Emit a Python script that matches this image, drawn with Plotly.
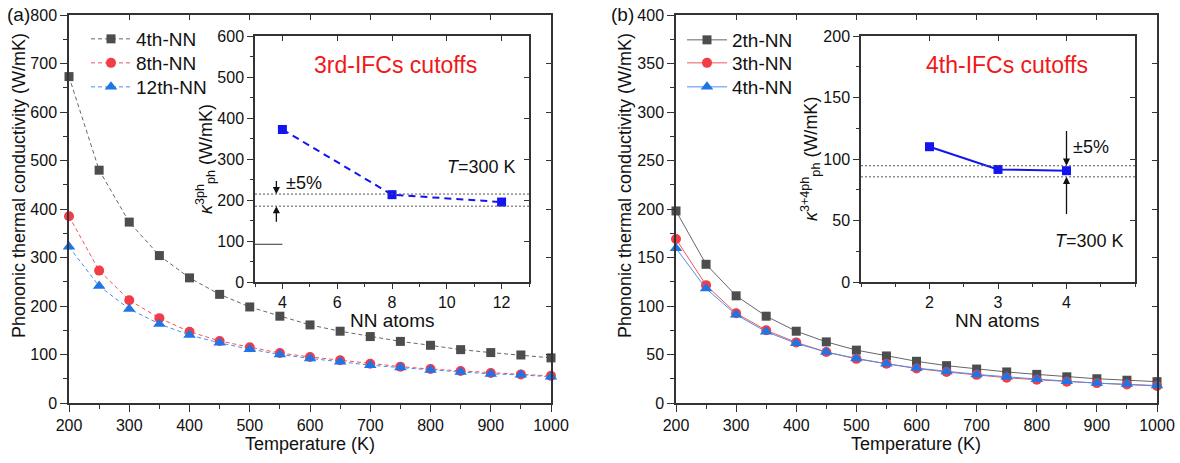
import plotly.graph_objects as go

# ---------------- data ----------------
temperature = [200, 250, 300, 350, 400, 450, 500, 550, 600, 650, 700, 750, 800, 850, 900, 950, 1000]

# panel (a): 3rd-order IFC cutoffs
k_4thNN = [673, 480, 373, 304, 258, 224, 198, 179, 161, 148, 137, 127, 119, 110, 104, 99, 93]
k_8thNN = [385, 273, 212, 175, 147, 128, 115, 103, 95, 88, 81, 75, 70, 66, 62, 59, 56]
k_12thNN = [322, 241, 194, 163, 140, 124, 111, 100, 92, 85, 78, 73, 68, 64, 60, 58, 54]

# panel (b): 4th-order IFC cutoffs
k_2thNN = [198, 143, 110.5, 89.5, 74, 63, 54.5, 48.5, 43, 38.5, 35, 32, 29.5, 27, 25, 23.5, 22]
k_3thNN = [169, 121.5, 92.5, 75, 62.5, 52.5, 45.5, 40.5, 35.5, 32, 29, 26, 24, 22, 20.5, 19, 17.5]
k_4thNN_b = [159.5, 118, 91, 73.5, 61.5, 52.5, 46, 40.5, 36, 32.5, 29.5, 27, 24.5, 22.5, 20.5, 19.5, 18]

# insets (T = 300 K)
nn_atoms_3rd = [4, 8, 12]
k3ph_300K = [372, 213, 195]
band_3rd = [214.5, 185]

nn_atoms_4th = [2, 3, 4]
k34ph_300K = [110, 91.5, 90.5]
band_4th = [94.5, 85.5]

# ---------------- style ----------------
W, H = 1180, 463
FONT = "Liberation Sans"
AX = "#333333"

def px_x(p):
    return p / W

def px_y(p):
    return 1 - p / H

fig = go.Figure()

GRAY, RED, BLUE = "#4d4d4d", "#f23c46", "#1f74e6"
LGRAY, LRED, LBLUE = "#666666", "#f2545c", "#4d8fec"

# panel (a) curves
fig.add_trace(go.Scatter(x=temperature, y=k_4thNN, name="4th-NN", mode="lines+markers",
                         line=dict(color=LGRAY, width=1, dash="4px,3px"),
                         marker=dict(symbol="square", size=9, color=GRAY),
                         xaxis="x", yaxis="y", legend="legend", cliponaxis=False))
fig.add_trace(go.Scatter(x=temperature, y=k_8thNN, name="8th-NN", mode="lines+markers",
                         line=dict(color=LRED, width=1, dash="4px,3px"),
                         marker=dict(symbol="circle", size=10, color=RED),
                         xaxis="x", yaxis="y", legend="legend3", cliponaxis=False))
fig.add_trace(go.Scatter(x=temperature, y=k_12thNN, name="12th-NN", mode="lines+markers",
                         line=dict(color=LBLUE, width=1, dash="4px,3px"),
                         marker=dict(symbol="triangle-up", size=11, color=BLUE),
                         xaxis="x", yaxis="y", legend="legend4", cliponaxis=False))

# panel (b) curves
fig.add_trace(go.Scatter(x=temperature, y=k_2thNN, name="2th-NN", mode="lines+markers",
                         line=dict(color=LGRAY, width=1),
                         marker=dict(symbol="square", size=9, color=GRAY),
                         xaxis="x2", yaxis="y2", legend="legend2", cliponaxis=False))
fig.add_trace(go.Scatter(x=temperature, y=k_3thNN, name="3th-NN", mode="lines+markers",
                         line=dict(color=LRED, width=1),
                         marker=dict(symbol="circle", size=10, color=RED),
                         xaxis="x2", yaxis="y2", legend="legend5", cliponaxis=False))
fig.add_trace(go.Scatter(x=temperature, y=k_4thNN_b, name="4th-NN", mode="lines+markers",
                         line=dict(color=LBLUE, width=1),
                         marker=dict(symbol="triangle-up", size=11, color=BLUE),
                         xaxis="x2", yaxis="y2", legend="legend6", cliponaxis=False))

# insets
fig.add_trace(go.Scatter(x=nn_atoms_3rd, y=k3ph_300K, mode="lines+markers", showlegend=False,
                         line=dict(color="#1414f0", width=2, dash="7px,5px"),
                         marker=dict(symbol="square", size=9, color="#1414f0"),
                         xaxis="x3", yaxis="y3", cliponaxis=False))
fig.add_trace(go.Scatter(x=nn_atoms_4th, y=k34ph_300K, mode="lines+markers", showlegend=False,
                         line=dict(color="#1414f0", width=2),
                         marker=dict(symbol="square", size=9, color="#1414f0"),
                         xaxis="x4", yaxis="y4", cliponaxis=False))

# empty traces so the inner-tick overlay axes are drawn
for xa, ya in [("x5", "y"), ("x", "y5"), ("x6", "y2"), ("x2", "y6"),
               ("x7", "y3"), ("x3", "y7"), ("x8", "y4"), ("x4", "y8")]:
    fig.add_trace(go.Scatter(x=[], y=[], xaxis=xa, yaxis=ya, showlegend=False, hoverinfo="skip"))

tickfont = dict(family=FONT, size=16, color="#111")

def main_axis(domain, rng, dtick, minor, anchor, ticklen=7, font=tickfont, tickvals=None):
    d = dict(domain=domain, range=rng, anchor=anchor, showline=True, linecolor=AX, linewidth=1.5,
             mirror=True, ticks="outside", ticklen=ticklen, tickwidth=1.3, tickcolor=AX,
             showgrid=False, zeroline=False, tickfont=font, automargin=False,
             minor=dict(dtick=minor, ticks="outside", ticklen=ticklen * 0.55, tickwidth=1.2,
                        tickcolor=AX, showgrid=False))
    if tickvals is not None:
        d["tickmode"] = "array"
        d["tickvals"] = tickvals
    else:
        d["dtick"] = dtick
        d["tick0"] = rng[0] if rng[0] % dtick == 0 else 0
    return d

def inner_axis(overlay, anchor, side, rng, dtick, ticklen=5, tickvals=None):
    d = dict(overlaying=overlay, anchor=anchor, side=side, range=rng, showline=False,
             ticks="inside", ticklen=ticklen, tickwidth=1.2, tickcolor=AX, automargin=False,
             showticklabels=False, showgrid=False, zeroline=False)
    if tickvals is not None:
        d["tickmode"] = "array"
        d["tickvals"] = tickvals
    else:
        d["dtick"] = dtick
        d["tick0"] = 0
    return d

xa_main = [px_x(69), px_x(551)]
xb_main = [px_x(676), px_x(1157)]
y_main = [px_y(403), px_y(15)]
xa_ins = [px_x(255), px_x(529)]
xb_ins = [px_x(861), px_x(1135)]
y_ins = [px_y(282), px_y(36)]

insfont = dict(family=FONT, size=16, color="#111")

def one_legend(xp, yp):
    return dict(x=px_x(xp), y=px_y(yp), xanchor="left", yanchor="middle",
                bgcolor="rgba(0,0,0,0)", font=dict(family=FONT, size=19, color="#111"),
                itemwidth=40)

fig.update_layout(
    width=W, height=H, margin=dict(l=0, r=0, t=0, b=0, pad=0, autoexpand=False),
    paper_bgcolor="white", plot_bgcolor="white",
    font=dict(family=FONT, color="#111"),
    xaxis=main_axis(xa_main, [200, 1000], 100, 50, "y"),
    yaxis=main_axis(y_main, [0, 800], 100, 50, "x"),
    xaxis2=main_axis(xb_main, [200, 1000], 100, 50, "y2"),
    yaxis2=main_axis(y_main, [0, 400], 50, 25, "x2"),
    xaxis3=main_axis(xa_ins, [3, 13], 2, 1, "y3", ticklen=5, font=insfont),
    yaxis3=main_axis(y_ins, [0, 600], 100, 50, "x3", ticklen=6, font=insfont),
    xaxis4=main_axis(xb_ins, [1, 5], 1, 0.5, "y4", ticklen=5, font=insfont, tickvals=nn_atoms_4th),
    yaxis4=main_axis(y_ins, [0, 200], 50, 25, "x4", ticklen=6, font=insfont),
    xaxis5=inner_axis("x", "y", "top", [200, 1000], 100),
    yaxis5=inner_axis("y", "x", "right", [0, 800], 100),
    xaxis6=inner_axis("x2", "y2", "top", [200, 1000], 100),
    yaxis6=inner_axis("y2", "x2", "right", [0, 400], 50),
    xaxis7=inner_axis("x3", "y3", "top", [3, 13], 2),
    yaxis7=inner_axis("y3", "x3", "right", [0, 600], 100),
    xaxis8=inner_axis("x4", "y4", "top", [1, 5], 1, tickvals=nn_atoms_4th),
    yaxis8=inner_axis("y4", "x4", "right", [0, 200], 50),
    legend=one_legend(86, 39),
    legend3=one_legend(86, 63),
    legend4=one_legend(86, 87),
    legend2=one_legend(682, 40),
    legend5=one_legend(682, 63),
    legend6=one_legend(682, 87),
)

# reference bands (+/-5%) and leftover segment
shapes = []
for v in band_3rd:
    shapes.append(dict(type="line", xref="x3 domain", yref="y3", x0=0, x1=1, y0=v, y1=v,
                       line=dict(color="#555", width=1, dash="2px,2px")))
for v in band_4th:
    shapes.append(dict(type="line", xref="x4 domain", yref="y4", x0=0, x1=1, y0=v, y1=v,
                       line=dict(color="#555", width=1, dash="2px,2px")))
shapes.append(dict(type="line", xref="x3", yref="y3", x0=3, x1=4, y0=92, y1=92,
                   line=dict(color="#333", width=1)))
fig.update_layout(shapes=shapes)

ann = []

def txt(text, xp, yp, font, xanchor="center", angle=0):
    ann.append(dict(text=text, x=px_x(xp), y=px_y(yp), xref="paper", yref="paper",
                    xanchor=xanchor, yanchor="middle", showarrow=False, textangle=angle, font=font))

tf = dict(family=FONT, size=18, color="#111")
pf = dict(family=FONT, size=19, color="#111")
nf = dict(family=FONT, size=19, color="#111")
rf = dict(family=FONT, size=23, color="#f01818")

txt("(a)", 18, 15, pf)
txt("(b)", 622, 15, pf)
txt("Temperature (K)", 310, 444, tf)
txt("Temperature (K)", 916, 444, tf)
txt("Phononic thermal conductivity (W/mK)", 19, 186, tf, angle=-90)
txt("Phononic thermal conductivity (W/mK)", 625, 186, tf, angle=-90)
txt("NN atoms", 392, 320, nf)
txt("NN atoms", 997, 320, nf)
txt("<i>κ</i><sup>3ph</sup><sub>ph</sub> (W/mK)", 205, 159, tf, angle=-90)
txt("<i>κ</i><sup>3+4ph</sup><sub>ph</sub> (W/mK)", 810, 159, tf, angle=-90)
txt("3rd-IFCs cutoffs", 395, 65, rf)
txt("4th-IFCs cutoffs", 1007, 65, rf)
txt("<i>T</i>=300 K", 445, 167, tf, xanchor="left")
txt("<i>T</i>=300 K", 1053, 241, tf, xanchor="left")
txt("±5%", 284, 183, tf, xanchor="left")
txt("±5%", 1071, 147, tf, xanchor="left")

# arrows
arr = dict(showarrow=True, arrowhead=2, arrowsize=1.1, arrowwidth=1.3, arrowcolor="#111", text="")
xa_arrow = 3.78
ann.append(dict(x=xa_arrow, y=band_3rd[0], ax=xa_arrow, ay=250, xref="x3", yref="y3",
                axref="x3", ayref="y3", **arr))
ann.append(dict(x=xa_arrow, y=band_3rd[1], ax=xa_arrow, ay=143, xref="x3", yref="y3",
                axref="x3", ayref="y3", **arr))
ann.append(dict(x=nn_atoms_4th[2], y=band_4th[0], ax=nn_atoms_4th[2], ay=124, xref="x4", yref="y4",
                axref="x4", ayref="y4", **arr))
ann.append(dict(x=nn_atoms_4th[2], y=band_4th[1], ax=nn_atoms_4th[2], ay=54, xref="x4", yref="y4",
                axref="x4", ayref="y4", **arr))
fig.update_layout(annotations=ann)

fig.write_html("out.html", config={"displayModeBar": False},
               post_script="document.body.style.margin='0px';")
